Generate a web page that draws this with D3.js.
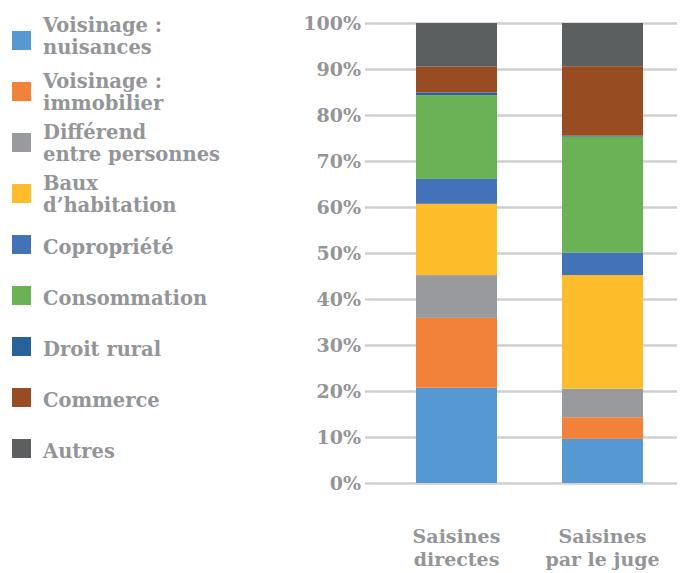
<!DOCTYPE html>
<html>
<head>
<meta charset="utf-8">
<script src="https://cdn.jsdelivr.net/npm/d3@7"></script>
<style>
	body { margin: 0; background: #fff; }
	text { font-family: "DejaVu Serif", serif; font-weight: bold; fill: #939598; }
</style>
</head>
<body>
<div id="chart"></div>
<script>
// categories (bottom to top of each bar)
var categories = ["nuisances", "immobilier", "differend", "baux", "copro", "conso", "rural", "commerce", "autres"]
var legendLabels = [
	["Voisinage :", "nuisances"],
	["Voisinage :", "immobilier"],
	["Différend", "entre personnes"],
	["Baux", "d\u2019habitation"],
	["Copropriété"],
	["Consommation"],
	["Droit rural"],
	["Commerce"],
	["Autres"]
]
var colors = ["#5598d2", "#f2823a", "#989a9d", "#fdbd2a", "#4472b8", "#6bb155", "#28629a", "#984c22", "#5b5f60"]

// bars
var groups = ["directes", "juge"]
var groupLabels = [["Saisines", "directes"], ["Saisines", "par le juge"]]
var directes = [20.7, 15.2, 9.3, 15.5, 5.4, 18.2, 0.6, 5.6, 9.5]
var juge = [9.6, 4.7, 6.2, 24.7, 4.9, 25.2, 0.2, 15.1, 9.4]

var width = 683
var height = 573

var svg = d3.select("#chart")
	.append("svg")
	.attr("width", width)
	.attr("height", height)

var rows = groups.map(function (g, i) {
	var src = i == 0 ? directes : juge
	var r = { group: g }
	categories.forEach(function (c, j) { r[c] = src[j] })
	return r
})

var series = d3.stack()
	.keys(categories)
	.offset(d3.stackOffsetExpand)(rows)

var color = d3.scaleOrdinal().domain(categories).range(colors)

var x = d3.scaleBand()
	.domain(groups)
	.range([383.5, 675.5])
	.paddingInner(0.445)
	.paddingOuter(0.2225)

var y = d3.scaleLinear()
	.domain([0, 1])
	.range([483, 23])

// grid + tick labels
var axis = svg.append("g")
	.attr("transform", "translate(677,0)")
	.call(d3.axisLeft(y).ticks(10).tickFormat(d3.format(".0%")).tickSize(312).tickPadding(4))

axis.select(".domain").remove()
axis.selectAll(".tick line")
	.attr("stroke", "#cfcfcf")
	.attr("stroke-width", 2.5)
axis.selectAll(".tick text")
	.attr("font-size", 19)
	.attr("font-family", null)
	.attr("fill", null)

// stacked bars
svg.append("g")
	.selectAll("g")
	.data(series)
	.join("g")
	.attr("fill", function (d) { return color(d.key) })
	.selectAll("rect")
	.data(function (d) { return d })
	.join("rect")
	.attr("x", function (d) { return x(d.data.group) })
	.attr("width", x.bandwidth())
	.attr("y", function (d) { return y(d[1]) })
	.attr("height", function (d) { return y(d[0]) - y(d[1]) })

// x labels
var xl = svg.append("g")
	.selectAll("text")
	.data(groups)
	.join("text")
	.attr("text-anchor", "middle")
	.attr("font-size", 19)
	.attr("x", function (d) { return x(d) + x.bandwidth() / 2 })
	.attr("y", 543)
xl.each(function (d, i) {
	var t = d3.select(this)
	groupLabels[i].forEach(function (line, k) {
		t.append("tspan")
			.attr("x", x(d) + x.bandwidth() / 2)
			.attr("y", 543 + k * 23)
			.text(line)
	})
})

// legend
var ly = d3.scaleLinear().domain([0, categories.length - 1]).range([31, 439])

var legend = svg.append("g")
	.selectAll("g")
	.data(categories)
	.join("g")
	.attr("transform", function (d, i) { return "translate(12," + Math.round(ly(i)) + ")" })

legend.append("rect")
	.attr("width", 19)
	.attr("height", 19)
	.attr("fill", function (d) { return color(d) })

legend.append("text")
	.attr("font-size", 19.5)
	.each(function (d, i) {
		var t = d3.select(this)
		var lines = legendLabels[i]
		lines.forEach(function (line, k) {
			t.append("tspan")
				.attr("x", 31)
				.attr("y", lines.length == 1 ? 18.5 : (i == 0 ? 1 : 6) + k * 22)
				.text(line)
		})
	})
</script>
</body>
</html>
